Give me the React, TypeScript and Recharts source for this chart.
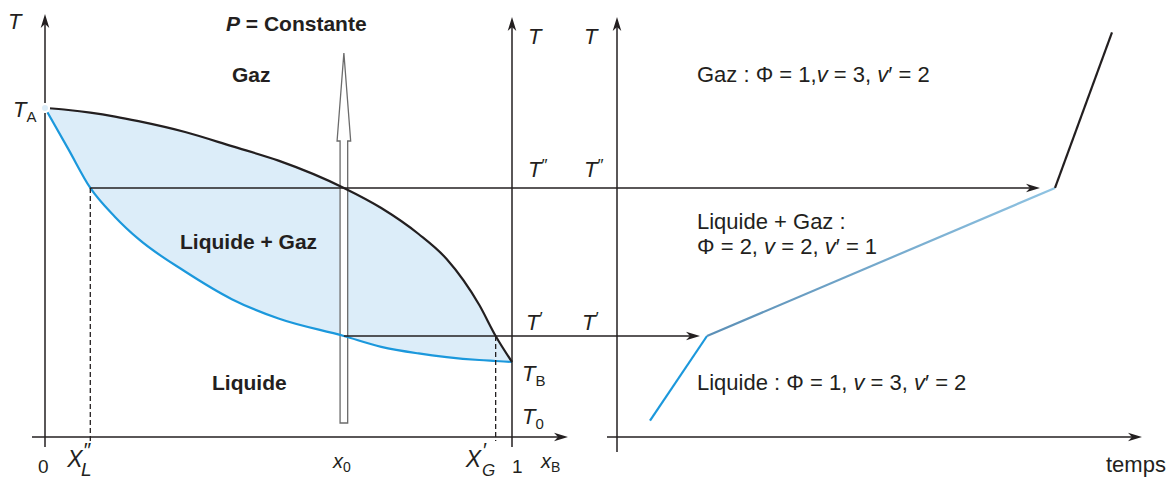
import React from 'react';
import {
  ComposedChart,
  XAxis,
  YAxis,
  Area,
  Line,
  ReferenceLine,
  ReferenceDot,
} from 'recharts';

// Isobaric liquid/vapour diagram of a binary A-B mixture (left)
// and the heating curve of the mixture of composition x0 (right)
const compositions = [0, 0.05, 0.097, 0.15, 0.2, 0.3, 0.4, 0.5, 0.64, 0.72, 0.8, 0.86, 0.93, 0.965, 1];
const dewTemps = [100, 99.4, 98.6, 97.4, 96.0, 92.7, 88.4, 84.0, 75.7, 69.6, 61.7, 54.1, 40.1, 30.7, 22.8];
const bubbleTemps = [100, 87.5, 75.7, 66.9, 60.2, 50.3, 41.9, 36.0, 30.7, 27.4, 25.4, 24.3, 23.4, 23.1, 22.8];

const heatTimes = [3.3, 9.0, 43.8, 49.5];
const heatTemps = [5, 30.7, 75.7, 123];

const T_A = 100;
const T_B = 22.8;
const T_0 = heatTemps[0];
const T_P = heatTemps[1]; // T'
const T_PP = heatTemps[2]; // T''
const X0 = 0.64;
const X_L = 0.097; // x''L
const X_G = 0.965; // x'G

// page layout: both panels share the temperature scale
const W = 1174;
const H = 480;
const AXIS_Y = 437;
const DEG_PX = 3.29;
const COMP_X0 = 45;
const COMP_PX = 467;
const TIME_X0 = 617;
const TIME_PX = 10;

const tempDomain = [(AXIS_Y - H) / DEG_PX, AXIS_Y / DEG_PX];
const compDomain = [-COMP_X0 / COMP_PX, (W - COMP_X0) / COMP_PX];
const timeDomain = [-TIME_X0 / TIME_PX, (W - TIME_X0) / TIME_PX];

const compAt = (px: number) => (px - COMP_X0) / COMP_PX;
const timeAt = (px: number) => (px - TIME_X0) / TIME_PX;
const tempAt = (py: number) => (AXIS_Y - py) / DEG_PX;

const INK = '#231f20';
const BLUE = '#1b98dc';
const FONT = '"Liberation Sans", Arial, Helvetica, sans-serif';

const rows = compositions.map((x, i) => ({
  x,
  dew: dewTemps[i],
  bubble: bubbleTemps[i],
  band: [bubbleTemps[i], dewTemps[i]],
}));

const heatSegment = (from: number, to: number) =>
  heatTimes.slice(from, to + 1).map((t, i) => ({ t, T: heatTemps[from + i] }));

// line with an optional filled arrow head at its second end point
const arrow = (opts: { head?: boolean; gap?: number; width?: number; dash?: string } = {}) =>
  (p: any) => {
    const { x1, y1, x2, y2 } = p;
    const len = Math.hypot(x2 - x1, y2 - y1) || 1;
    const ux = (x2 - x1) / len;
    const uy = (y2 - y1) / len;
    const gap = opts.gap ?? 0;
    const tx = x2 - ux * gap;
    const ty = y2 - uy * gap;
    const head = opts.head ?? true;
    const hl = 14;
    const hw = 4.3;
    const notch = 10;
    const bx = tx - ux * hl;
    const by = ty - uy * hl;
    const nx = -uy;
    const ny = ux;
    const ex = head ? tx - ux * notch : tx;
    const ey = head ? ty - uy * notch : ty;
    return (
      <g>
        <line
          x1={x1}
          y1={y1}
          x2={ex}
          y2={ey}
          stroke={INK}
          strokeWidth={opts.width ?? 1.5}
          strokeDasharray={opts.dash}
        />
        {head && (
          <polygon
            points={`${tx},${ty} ${bx + nx * hw},${by + ny * hw} ${ex},${ey} ${bx - nx * hw},${by - ny * hw}`}
            fill={INK}
          />
        )}
      </g>
    );
  };

// hollow arrow showing the heating of the mixture x0
const hollowArrow = (p: any) => {
  const cx = p.x1;
  const yb = p.y1;
  const yt = p.y2;
  const sw = 3.8;
  const hw = 6.8;
  const hb = yt + 88;
  const d = `M${cx - sw},${yb} L${cx - sw},${hb} L${cx - hw},${hb} L${cx},${yt} L${cx + hw},${hb} L${cx + sw},${hb} L${cx + sw},${yb} Z`;
  return <path d={d} fill="#fff" stroke="#6b6b6b" strokeWidth={1.3} />;
};

const note = (
  key: string,
  xAxisId: string,
  x: number,
  y: number,
  content: React.ReactNode,
  attrs: Record<string, any> = {}
) => (
  <ReferenceDot
    key={key}
    xAxisId={xAxisId}
    yAxisId="temp"
    x={x}
    y={y}
    r={0}
    ifOverflow="visible"
    shape={(p: any) => (
      <text x={p.cx} y={p.cy} fill={INK} fontFamily={FONT} fontSize={22} {...attrs}>
        {content}
      </text>
    )}
  />
);

const It = ({ children }: { children: React.ReactNode }) => <tspan fontStyle="italic">{children}</tspan>;

const seg = (xAxisId: string, a: [number, number], b: [number, number], shape: any, key: string) => (
  <ReferenceLine
    key={key}
    xAxisId={xAxisId}
    yAxisId="temp"
    segment={[{ x: a[0], y: a[1] }, { x: b[0], y: b[1] }]}
    shape={shape}
    ifOverflow="visible"
  />
);

export default function App() {
  const joinTime = timeAt(COMP_X0 + COMP_PX); // where composition 1 sits on the time scale

  return (
    <div style={{ position: 'absolute', left: 0, top: 0, width: W, height: H, background: '#fff' }}>
      <ComposedChart width={W} height={H} data={rows} margin={{ top: 0, right: 0, bottom: 0, left: 0 }}>
        <defs>
          <linearGradient id="mixGrad" x1="0" y1="0" x2="1" y2="0">
            <stop offset="0%" stopColor="#5b8fb6" />
            <stop offset="100%" stopColor="#8fc3e2" />
          </linearGradient>
        </defs>
        <XAxis xAxisId="comp" type="number" dataKey="x" domain={compDomain} hide allowDataOverflow />
        <XAxis xAxisId="time" type="number" dataKey="t" domain={timeDomain} hide allowDataOverflow />
        <YAxis yAxisId="temp" type="number" domain={tempDomain} hide allowDataOverflow />

        <Area
          xAxisId="comp"
          yAxisId="temp"
          dataKey="band"
          type="monotone"
          fill="#dcedf9"
          fillOpacity={1}
          stroke="none"
          isAnimationActive={false}
        />

        {seg('comp', [X0, tempAt(423)], [X0, tempAt(53)], hollowArrow, 'hollow')}

        <Line xAxisId="comp" yAxisId="temp" dataKey="bubble" type="monotone" stroke={BLUE} strokeWidth={2.2} dot={false} activeDot={false} isAnimationActive={false} />
        <Line xAxisId="comp" yAxisId="temp" dataKey="dew" type="monotone" stroke={INK} strokeWidth={2.2} dot={false} activeDot={false} isAnimationActive={false} />

        <Line xAxisId="time" yAxisId="temp" data={heatSegment(0, 1)} dataKey="T" stroke={BLUE} strokeWidth={2.2} dot={false} activeDot={false} isAnimationActive={false} />
        <Line xAxisId="time" yAxisId="temp" data={heatSegment(1, 2)} dataKey="T" stroke="url(#mixGrad)" strokeWidth={2.2} dot={false} activeDot={false} isAnimationActive={false} />
        <Line xAxisId="time" yAxisId="temp" data={heatSegment(2, 3)} dataKey="T" stroke={INK} strokeWidth={2.2} dot={false} activeDot={false} isAnimationActive={false} />

        {/* axes */}
        {seg('comp', [0, tempAt(447)], [0, tempAt(14)], arrow(), 'axT')}
        {seg('comp', [compAt(32), 0], [compAt(568), 0], arrow(), 'axX')}
        {seg('comp', [1, tempAt(447)], [1, tempAt(17)], arrow(), 'axT2')}
        {seg('time', [0, tempAt(452)], [0, tempAt(17)], arrow(), 'axT3')}
        {seg('time', [timeAt(607), 0], [timeAt(1142), 0], arrow(), 'axTime')}

        {/* tie lines carried over to the heating curve */}
        {seg('comp', [X_L, T_PP], [1, T_PP], arrow({ head: false }), 'tpp1')}
        {seg('time', [joinTime, T_PP], [heatTimes[2], T_PP], arrow({ gap: 15 }), 'tpp2')}
        {seg('comp', [X0, T_P], [1, T_P], arrow({ head: false }), 'tp1')}
        {seg('time', [joinTime, T_P], [heatTimes[1], T_P], arrow({ gap: 7 }), 'tp2')}
        {seg('comp', [X_L, T_PP], [X_L, tempAt(441)], arrow({ head: false, dash: '5 3', width: 1.3 }), 'dashL')}
        {seg('comp', [X_G, T_P], [X_G, tempAt(441)], arrow({ head: false, dash: '5 3', width: 1.3 }), 'dashG')}

        {/* left panel labels */}
        {note('T', 'comp', 0, tempAt(29), <It>T</It>, { dx: -37 })}
        {note('TA', 'comp', 0, T_A, <><It>T</It><tspan fontSize={15} dy={5}>A</tspan></>, { dx: -32, dy: 9 })}
        {note('P', 'comp', compAt(226), tempAt(31), <><It>P</It> = Constante</>, { fontWeight: 'bold', fontSize: 21 })}
        {note('gaz', 'comp', compAt(232), tempAt(82), 'Gaz', { fontWeight: 'bold', fontSize: 21 })}
        {note('lg', 'comp', compAt(180), tempAt(249), 'Liquide + Gaz', { fontWeight: 'bold', fontSize: 21 })}
        {note('liq', 'comp', compAt(212), tempAt(390), 'Liquide', { fontWeight: 'bold', fontSize: 21 })}

        {note('t0', 'comp', 0, 0, '0', { dx: -7, dy: 36, fontSize: 19 })}
        {note('xl', 'comp', X_L, 0, <><tspan fontStyle="italic" fontSize={23}>X</tspan><tspan fontStyle="italic" fontSize={21} dy={-10}>″</tspan><tspan fontStyle="italic" fontSize={19} dx={-9} dy={19}>L</tspan></>, { dx: -23, dy: 30 })}
        {note('x0', 'comp', X0, 0, <><It>x</It><tspan fontSize={14} dy={4}>0</tspan></>, { dx: -11, dy: 31, fontSize: 20 })}
        {note('xg', 'comp', X_G, 0, <><tspan fontStyle="italic" fontSize={23}>X</tspan><tspan fontStyle="italic" fontSize={21} dx={1} dy={-10}>′</tspan><tspan fontStyle="italic" fontSize={17} dx={-4} dy={19}>G</tspan></>, { dx: -30, dy: 30 })}
        {note('t1', 'comp', 1, 0, '1', { dx: 0, dy: 36, fontSize: 19 })}
        {note('xb', 'comp', compAt(541), 0, <><It>x</It><tspan fontSize={14} dy={4}>B</tspan></>, { dy: 31, fontSize: 20 })}

        {note('T2', 'comp', 1, tempAt(44), <It>T</It>, { dx: 16 })}
        {note('Tpp2', 'comp', 1, T_PP, <><It>T</It><tspan fontSize={17} dy={-6}>″</tspan></>, { dx: 16, dy: -11 })}
        {note('Tp2', 'comp', 1, T_P, <><It>T</It><tspan fontSize={17} dy={-6}>′</tspan></>, { dx: 14, dy: -6 })}
        {note('TB', 'comp', 1, T_B, <><It>T</It><tspan fontSize={15} dy={5}>B</tspan></>, { dx: 10, dy: 19 })}
        {note('T0', 'comp', 1, T_0, <><It>T</It><tspan fontSize={15} dy={5}>0</tspan></>, { dx: 10, dy: 3 })}

        {/* right panel labels */}
        {note('T3', 'time', 0, tempAt(44), <It>T</It>, { dx: -33 })}
        {note('Tpp3', 'time', 0, T_PP, <><It>T</It><tspan fontSize={17} dy={-6}>″</tspan></>, { dx: -33, dy: -11 })}
        {note('Tp3', 'time', 0, T_P, <><It>T</It><tspan fontSize={17} dy={-6}>′</tspan></>, { dx: -35, dy: -6 })}
        {note('temps', 'time', timeAt(1106), 0, 'temps', { dy: 35 })}

        {note('nGaz', 'time', timeAt(697), tempAt(82), <>Gaz : Φ = 1,<It>v</It> = 3, <It>v</It>′ = 2</>)}
        {note('nMix1', 'time', timeAt(697), tempAt(229), 'Liquide + Gaz :')}
        {note('nMix2', 'time', timeAt(697), tempAt(254), <>Φ = 2, <It>v</It> = 2, <It>v</It>′ = 1</>)}
        {note('nLiq', 'time', timeAt(697), tempAt(390), <>Liquide : Φ = 1, <It>v</It> = 3, <It>v</It>′ = 2</>)}
      </ComposedChart>
    </div>
  );
}
